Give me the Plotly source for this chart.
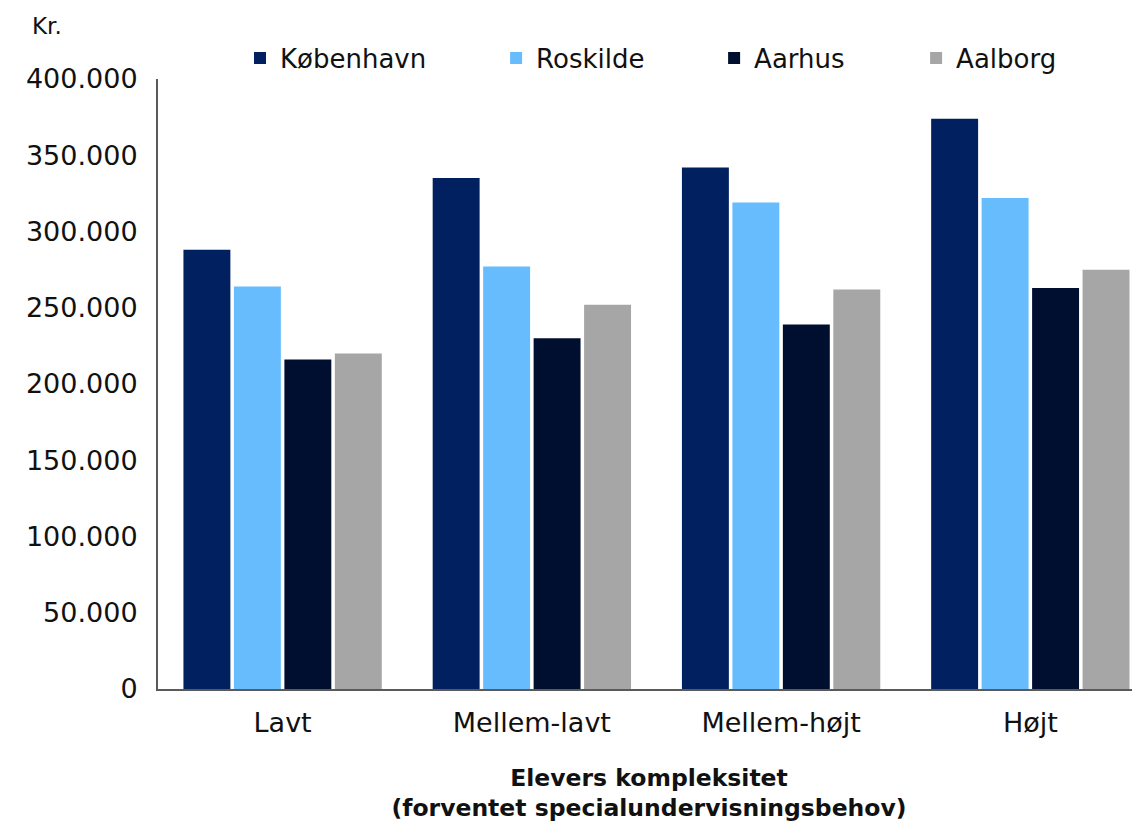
import plotly.graph_objects as go

categories = ["Lavt", "Mellem-lavt", "Mellem-højt", "Højt"]
kobenhavn = [288000, 335000, 342000, 374000]
roskilde = [264000, 277000, 319000, 322000]
aarhus = [216000, 230000, 239000, 263000]
aalborg = [220000, 252000, 262000, 275000]
series_names = ["København", "Roskilde", "Aarhus", "Aalborg"]
colors = ["#00205F", "#66BCFD", "#000F30", "#A6A6A6"]
tick_vals = [0, 50000, 100000, 150000, 200000, 250000, 300000, 350000, 400000]

FONT = "'DejaVu Sans', sans-serif"
legend_ids = ["legend", "legend2", "legend3", "legend4"]
legend_x = [0.0835, 0.3443, 0.5663, 0.772]

fig = go.Figure()
for name, vals, col, lid in zip(series_names, [kobenhavn, roskilde, aarhus, aalborg], colors, legend_ids):
    fig.add_trace(go.Bar(x=categories, y=vals, name=name, marker_color=col,
                         marker_line_width=0, legend=lid, showlegend=True))

legend_common = dict(orientation="h", yanchor="middle", y=1.0344, xanchor="left",
                     font=dict(size=26, family=FONT, color="#111111"),
                     bgcolor="rgba(0,0,0,0)")
layout_legends = {}
for lid, lx in zip(legend_ids, legend_x):
    layout_legends[lid] = dict(x=lx, **legend_common)

fig.update_layout(
    width=1132, height=817,
    margin=dict(l=150, r=0, t=71, b=136),
    showlegend=True,
    plot_bgcolor="white", paper_bgcolor="white",
    barmode="group", bargap=0.19, bargroupgap=0.07,
    separators=",.",
    font=dict(family=FONT, size=27, color="#111111"),
    xaxis=dict(range=[-0.5, 3.44], showline=True, linecolor="#5a5a5a", linewidth=2,
               ticks="", tickfont=dict(size=27), ticklabelstandoff=9,
               title=dict(text="<b>Elevers kompleksitet<br>(forventet specialundervisningsbehov)</b>",
                          font=dict(size=23.5), standoff=32)),
    yaxis=dict(range=[0, 400000], tickvals=tick_vals, tickformat=",d", showline=True,
               linecolor="#5a5a5a", linewidth=2, showgrid=False, ticks="",
               tickfont=dict(size=27), zeroline=False, ticklabelstandoff=13),
    annotations=[dict(text="Kr.", xref="paper", yref="paper", x=-0.1303, y=(689 - 26) / 610,
                      xanchor="left", yanchor="middle", showarrow=False, font=dict(size=23))],
    **layout_legends,
)
fig.write_html("out.html")
